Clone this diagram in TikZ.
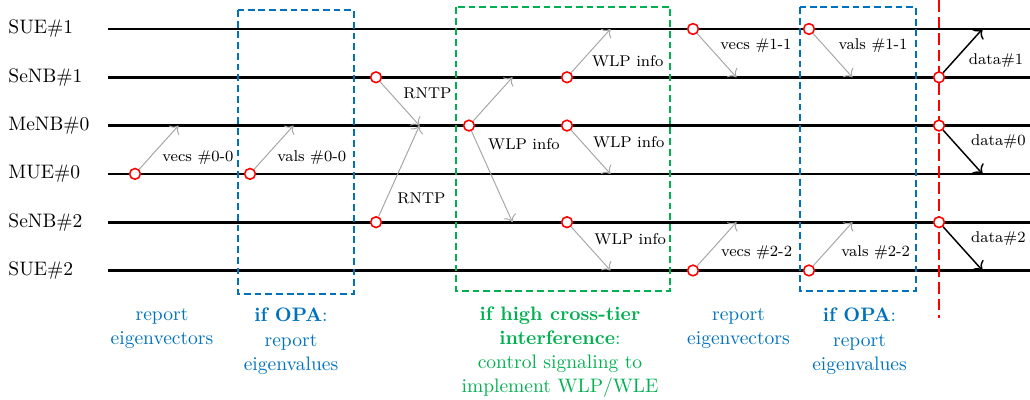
\documentclass[tikz,border=0pt]{standalone}
\usepackage{tikz}
\usetikzlibrary{positioning,arrows.meta}
\definecolor{opablue}{RGB}{0,114,189}
\definecolor{wlpgreen}{RGB}{0,176,80}
\tikzset{
	timeline/.style={line width=1.4pt},
	event/.style={circle,draw=red,fill=white,thick,inner sep=0pt,minimum size=5.5pt},
	msg/.style={gray!70,line width=0.5pt,-{To[length=3.5pt,width=7pt]}},
	datamsg/.style={black,line width=0.75pt,-{To[length=4pt,width=8pt]}},
	msglabel/.style={anchor=west,inner sep=0pt,font=\footnotesize},
	rowlabel/.style={anchor=west,inner sep=0pt},
	bluebox/.style={draw=opablue,thick,dash pattern=on 3.5pt off 2pt},
	greenbox/.style={draw=wlpgreen,thick,dash pattern=on 3.5pt off 2pt},
	bluecap/.style={anchor=north,align=center,text=opablue,font=\fontsize{10}{12.4}\selectfont},
	greencap/.style={anchor=north,align=center,text=wlpgreen,font=\fontsize{10}{12.4}\selectfont},
	cutline/.style={red,thick,dash pattern=on 6pt off 2.5pt}
}
\begin{document}
\begin{tikzpicture}[x=0.87cm,y=0.87cm]
			\useasboundingbox (0,0.6) rectangle (21.325,-7.681);
			%Names of the nodes
			\node [rowlabel] (lsue1) at (0.166,0) {SUE\#1};
			\node [rowlabel] (lsenb1) at (0.166,-1) {SeNB\#1};
			\node [rowlabel] (lmenb0) at (0.166,-2) {MeNB\#0};
			\node [rowlabel] (lmue0) at (0.166,-3) {MUE\#0};
			\node [rowlabel] (lsenb2) at (0.166,-4) {SeNB\#2};
			\node [rowlabel] (lsue2) at (0.166,-5) {SUE\#2};
			%Time lines
			\foreach \name/\row in {sue1/0,senb1/1,menb0/2,mue0/3,senb2/4,sue2/5} {
				\coordinate (\name L) at (2.236,-\row);
				\coordinate (\name R) at (21.325,-\row);
				\draw [timeline] (\name L) -- (\name R);
			}
			%Dashed boxes
			\draw [bluebox] (4.928,0.393) rectangle (7.329,-5.487);
			\draw [greenbox] (9.441,0.455) rectangle (13.872,-5.424);
			\draw [bluebox] (16.563,0.455) rectangle (18.965,-5.424);
			%Red cut line
			\coordinate (cuttop) at (19.441,0.6);
			\coordinate (cutbot) at (19.441,-5.98);
			\draw [cutline] (cuttop) -- (cutbot);
			%Events
			\node [event] (e1) at (2.795,-3) {};
			\node [event] (e2) at (5.176,-3) {};
			\node [event] (e3) at (7.785,-1) {};
			\node [event] (e4) at (7.785,-4) {};
			\node [event] (e5) at (9.710,-2) {};
			\node [event] (e6) at (11.739,-1) {};
			\node [event] (e7) at (11.739,-2) {};
			\node [event] (e8) at (11.739,-4) {};
			\node [event] (e9) at (14.348,0) {};
			\node [event] (e10) at (16.749,0) {};
			\node [event] (e11) at (14.348,-5) {};
			\node [event] (e12) at (16.749,-5) {};
			\node [event] (e13) at (19.441,-1) {};
			\node [event] (e14) at (19.441,-2) {};
			\node [event] (e15) at (19.441,-4) {};
			%Tips of the messages
			\coordinate (t1) at (3.695,-2);
			\coordinate (t2) at (6.076,-2);
			\coordinate (t3) at (8.685,-2);
			\coordinate (t5a) at (10.610,-1);
			\coordinate (t5b) at (10.610,-4);
			\coordinate (t6) at (12.639,0);
			\coordinate (t7) at (12.639,-3);
			\coordinate (t8) at (12.639,-5);
			\coordinate (t9) at (15.248,-1);
			\coordinate (t10) at (17.649,-1);
			\coordinate (t11) at (15.248,-4);
			\coordinate (t12) at (17.649,-4);
			\coordinate (t13) at (20.341,0);
			\coordinate (t14) at (20.341,-3);
			\coordinate (t15) at (20.341,-5);
			%Messages
			\draw [msg] (e1) -- (t1);
			\draw [msg] (e2) -- (t2);
			\draw [msg] (e3) -- (t3);
			\draw [msg] (e4) -- (t3);
			\draw [msg] (e5) -- (t5a);
			\draw [msg] (e5) -- (t5b);
			\draw [msg] (e6) -- (t6);
			\draw [msg] (e7) -- (t7);
			\draw [msg] (e8) -- (t8);
			\draw [msg] (e9) -- (t9);
			\draw [msg] (e10) -- (t10);
			\draw [msg] (e11) -- (t11);
			\draw [msg] (e12) -- (t12);
			\draw [datamsg] (e13) -- (t13);
			\draw [datamsg] (e14) -- (t14);
			\draw [datamsg] (e15) -- (t15);
			%Labels of the messages
			\node [msglabel] (m1) at (3.355,-2.67) {vecs \#0-0};
			\node [msglabel] (m2) at (5.736,-2.67) {vals \#0-0};
			\node [msglabel] (m3) at (8.345,-1.34) {RNTP};
			\node [msglabel] (m4) at (8.220,-3.50) {RNTP};
			\node [msglabel] (m5) at (10.100,-2.38) {WLP info};
			\node [msglabel] (m6) at (12.250,-0.66) {WLP info};
			\node [msglabel] (m7) at (12.270,-2.34) {WLP info};
			\node [msglabel] (m8) at (12.300,-4.35) {WLP info};
			\node [msglabel] (m9) at (14.907,-0.35) {vecs \#1-1};
			\node [msglabel] (m10) at (17.357,-0.35) {vals \#1-1};
			\node [msglabel] (m11) at (14.920,-4.64) {vecs \#2-2};
			\node [msglabel] (m12) at (17.410,-4.64) {vals \#2-2};
			\node [msglabel] (m13) at (20.050,-0.66) {data\#1};
			\node [msglabel] (m14) at (20.100,-2.34) {data\#0};
			\node [msglabel] (m15) at (20.100,-4.35) {data\#2};
			%Captions below the boxes
			\node [bluecap] (c1) at (3.354,-5.64) {report\\eigenvectors};
			\node [bluecap] (c2) at (6.025,-5.64) {\textbf{if OPA}:\\report\\eigenvalues};
			\node [greencap] (c3) at (11.594,-5.60) {\textbf{if high cross-tier}\\\textbf{interference}:\\control signaling to\\implement WLP/WLE};
			\node [bluecap] (c4) at (15.290,-5.64) {report\\eigenvectors};
			\node [bluecap] (c5) at (17.795,-5.64) {\textbf{if OPA}:\\report\\eigenvalues};
\end{tikzpicture}
\end{document}
